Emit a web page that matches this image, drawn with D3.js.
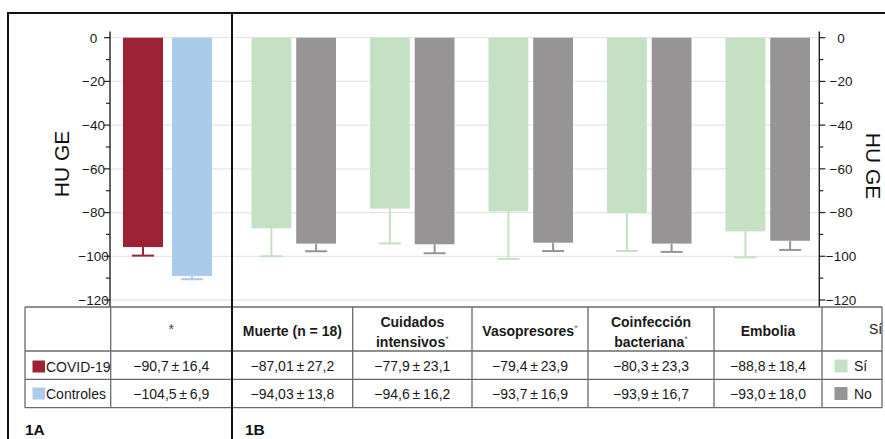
<!DOCTYPE html>
<html><head><meta charset="utf-8">
<script src="https://cdn.jsdelivr.net/npm/d3@7"></script>
<style>
html,body{margin:0;padding:0;background:#fff;}
svg{display:block;font-family:"Liberation Sans",Arial,sans-serif;}
</style></head>
<body>
<svg id="chart" width="885" height="439"></svg>
<script>
// ---- data ----
const groupsA = ["COVID-19", "Controles"];
const valuesA = [-95.8, -109.0];
const errA = [3.9, 1.5];

const categoriesB = ["Muerte", "Cuidados intensivos", "Vasopresores", "Coinfección bacteriana", "Embolia"];
const seriesB = ["Sí", "No"];
const siValues = [-87.2, -78.2, -79.5, -80.3, -88.6];
const siErr = [12.8, 15.9, 21.7, 17.3, 11.9];
const noValues = [-94.2, -94.5, -93.8, -94.2, -92.9];
const noErr = [3.5, 4.1, 3.8, 3.8, 4.2];

const yTicks = [0, -20, -40, -60, -80, -100, -120];
const yMinorTicks = [-10, -30, -50, -70, -90, -110];
const yTickLabels = ["0", "−20", "−40", "−60", "−80", "−100", "−120"];

const tableHeaders = ["", "*", "Muerte (n = 18)", "Cuidados|intensivos*", "Vasopresores*", "Coinfección|bacteriana*", "Embolia", "Sí"];
const covidRow = ["−90,7 ± 16,4", "−87,01 ± 27,2", "−77,9 ± 23,1", "−79,4 ± 23,9", "−80,3 ± 23,3", "−88,8 ± 18,4"];
const controlRow = ["−104,5 ± 6,9", "−94,03 ± 13,8", "−94,6 ± 16,2", "−93,7 ± 16,9", "−93,9 ± 16,7", "−93,0 ± 18,0"];

const colorsA = {"COVID-19": "#9e2236", "Controles": "#abcbea"};
const colorsB = {"Sí": "#c4e2c3", "No": "#969495"};

// ---- layout ----
const svg = d3.select("#chart");
svg.append("rect").attr("width", 885).attr("height", 439).attr("fill", "#fff");

const yTop = 37.7, yBot = 300;
const y = d3.scaleLinear().domain([0, -120]).range([yTop, yBot]);
const axL = 110, axR = 819.3, divX = 232;

// gridlines
svg.append("g").selectAll("line").data(yTicks).join("line")
  .attr("x1", axL).attr("x2", axR)
  .attr("y1", d => y(d)).attr("y2", d => y(d))
  .attr("stroke", "#e6e6e6").attr("stroke-width", 1.3);

// panel A bars
const xA = d3.scaleBand().domain(groupsA).range([123, 212]).paddingInner(0.184);
const dataA = groupsA.map((g, i) => ({g, v: valuesA[i], e: errA[i]}));
const gA = svg.append("g");
gA.selectAll("rect").data(dataA).join("rect")
  .attr("x", d => xA(d.g)).attr("width", xA.bandwidth())
  .attr("y", y(0)).attr("height", d => y(d.v) - y(0))
  .attr("fill", d => colorsA[d.g]);
const capW = 22;
gA.selectAll("line.ev").data(dataA).join("line").attr("class", "ev")
  .attr("x1", d => xA(d.g) + xA.bandwidth() / 2).attr("x2", d => xA(d.g) + xA.bandwidth() / 2)
  .attr("y1", d => y(d.v)).attr("y2", d => y(d.v - d.e))
  .attr("stroke", d => colorsA[d.g]).attr("stroke-width", 2);
gA.selectAll("line.ec").data(dataA).join("line").attr("class", "ec")
  .attr("x1", d => xA(d.g) + xA.bandwidth() / 2 - capW / 2).attr("x2", d => xA(d.g) + xA.bandwidth() / 2 + capW / 2)
  .attr("y1", d => y(d.v - d.e)).attr("y2", d => y(d.v - d.e))
  .attr("stroke", d => colorsA[d.g]).attr("stroke-width", 2);

// panel B bars
const xB = d3.scaleBand().domain(categoriesB).range([234.5, 827]).paddingInner(0);
const xIn = d3.scaleBand().domain(seriesB).range([-42.25, 42.25]).paddingInner(0.11);
const dataB = [];
categoriesB.forEach((c, i) => {
  dataB.push({c, s: "Sí", v: siValues[i], e: siErr[i]});
  dataB.push({c, s: "No", v: noValues[i], e: noErr[i]});
});
const cx = d => xB(d.c) + xB.bandwidth() / 2 + xIn(d.s);
const gB = svg.append("g");
gB.selectAll("rect").data(dataB).join("rect")
  .attr("x", d => cx(d)).attr("width", xIn.bandwidth())
  .attr("y", y(0)).attr("height", d => y(d.v) - y(0))
  .attr("fill", d => colorsB[d.s]);
gB.selectAll("line.ev").data(dataB).join("line").attr("class", "ev")
  .attr("x1", d => cx(d) + xIn.bandwidth() / 2).attr("x2", d => cx(d) + xIn.bandwidth() / 2)
  .attr("y1", d => y(d.v)).attr("y2", d => y(d.v - d.e))
  .attr("stroke", d => colorsB[d.s]).attr("stroke-width", 2);
gB.selectAll("line.ec").data(dataB).join("line").attr("class", "ec")
  .attr("x1", d => cx(d) + xIn.bandwidth() / 2 - capW / 2).attr("x2", d => cx(d) + xIn.bandwidth() / 2 + capW / 2)
  .attr("y1", d => y(d.v - d.e)).attr("y2", d => y(d.v - d.e))
  .attr("stroke", d => colorsB[d.s]).attr("stroke-width", 2);

// axes
function drawAxis(x0, dir, labelX) {
  const g = svg.append("g");
  g.append("line").attr("x1", x0).attr("x2", x0).attr("y1", 31.5).attr("y2", 307)
    .attr("stroke", "#222").attr("stroke-width", 1.4);
  g.selectAll("line.maj").data(yTicks).join("line").attr("class", "maj")
    .attr("x1", x0).attr("x2", x0 + dir * 6).attr("y1", d => y(d)).attr("y2", d => y(d))
    .attr("stroke", "#222").attr("stroke-width", 1.2);
  g.selectAll("line.min").data(yMinorTicks).join("line").attr("class", "min")
    .attr("x1", x0).attr("x2", x0 + dir * 4).attr("y1", d => y(d)).attr("y2", d => y(d))
    .attr("stroke", "#222").attr("stroke-width", 1.2);
  g.selectAll("text").data(yTicks).join("text")
    .attr("x", labelX).attr("y", d => y(d) + 4.8)
    .attr("text-anchor", "middle").attr("font-size", 13.5).attr("fill", "#1a1a1a")
    .text((d, i) => yTickLabels[i]);
}
drawAxis(axL, -1, 93.5);
drawAxis(axR, 1, 841);

svg.append("text").attr("transform", "translate(69,164) rotate(-90)")
  .attr("text-anchor", "middle").attr("font-size", 21).attr("fill", "#111").text("HU GE");
svg.append("text").attr("transform", "translate(866,166) rotate(90)")
  .attr("text-anchor", "middle").attr("font-size", 21).attr("fill", "#111").text("HU GE");

// table
const colX = [25, 110.7, 232, 352.7, 472, 588, 714, 822, 882];
const rowY = [307, 351, 379.3, 407.7];
const tg = svg.append("g");
rowY.forEach(ry => tg.append("line").attr("x1", colX[0]).attr("x2", colX[8]).attr("y1", ry).attr("y2", ry)
  .attr("stroke", "#6a6a6a").attr("stroke-width", 1.3));
colX.forEach(cxv => tg.append("line").attr("x1", cxv).attr("x2", cxv).attr("y1", rowY[0]).attr("y2", rowY[3])
  .attr("stroke", "#6a6a6a").attr("stroke-width", 1.3));

svg.append("clipPath").attr("id", "tclip").append("rect").attr("x", 0).attr("y", 0).attr("width", 882).attr("height", 439);

tableHeaders.forEach((h, i) => {
  if (!h) return;
  const mid = (colX[i] + colX[i + 1]) / 2;
  if (i === 1) {
    tg.append("text").attr("x", mid).attr("y", 334).attr("text-anchor", "middle")
      .attr("font-size", 14).attr("fill", "#444").text("*");
    return;
  }
  if (i === 7) {
    tg.append("text").attr("x", 869).attr("y", 334).attr("clip-path", "url(#tclip)")
      .attr("font-size", 14).attr("fill", "#222").text(h);
    return;
  }
  const lines = h.split("|");
  const base = lines.length === 1 ? 335.5 : 326.5;
  lines.forEach((ln, k) => {
    const t = tg.append("text").attr("x", mid).attr("y", base + k * 20).attr("text-anchor", "middle")
      .attr("font-size", 14).attr("font-weight", "bold").attr("fill", "#1a1a1a");
    if (ln.endsWith("*")) {
      t.append("tspan").text(ln.slice(0, -1));
      t.append("tspan").attr("dy", -5).attr("font-size", 9).attr("font-weight", "normal").attr("fill", "#666").text("*");
    } else t.text(ln);
  });
});

[covidRow, controlRow].forEach((row, r) => {
  row.forEach((v, i) => {
    const mid = (colX[i + 1] + colX[i + 2]) / 2;
    tg.append("text").attr("x", mid).attr("y", (r === 0 ? 370.5 : 399))
      .attr("text-anchor", "middle").attr("font-size", 14).attr("fill", "#1a1a1a")
      .text(v.replace(/ ± /, "\u2009±\u2009"));
  });
});

// row legends
groupsA.forEach((g, r) => {
  const cy = r === 0 ? 366.5 : 393.5;
  tg.append("rect").attr("x", 32.5).attr("y", cy - 6).attr("width", 12.5).attr("height", 12).attr("fill", colorsA[g]);
  tg.append("text").attr("x", 46).attr("y", cy + 5).attr("font-size", 14).attr("fill", "#1a1a1a").text(g);
});
seriesB.forEach((s, r) => {
  const cy = r === 0 ? 366 : 393.5;
  tg.append("rect").attr("x", 834.5).attr("y", cy - 6.5).attr("width", 13).attr("height", 13).attr("fill", colorsB[s]);
  tg.append("text").attr("x", 854).attr("y", cy + 5).attr("font-size", 14).attr("fill", "#1a1a1a").text(s);
});

// frames
svg.append("line").attr("x1", 8).attr("x2", 885).attr("y1", 13).attr("y2", 13).attr("stroke", "#111").attr("stroke-width", 2);
svg.append("line").attr("x1", 8).attr("x2", 8).attr("y1", 12).attr("y2", 439).attr("stroke", "#111").attr("stroke-width", 2);
svg.append("line").attr("x1", divX).attr("x2", divX).attr("y1", 12).attr("y2", 439).attr("stroke", "#111").attr("stroke-width", 2);

svg.append("text").attr("x", 25).attr("y", 434.5).attr("font-size", 15.5).attr("font-weight", "bold").attr("fill", "#111").text("1A");
svg.append("text").attr("x", 245).attr("y", 434.5).attr("font-size", 15.5).attr("font-weight", "bold").attr("fill", "#111").text("1B");
</script>
</body></html>
